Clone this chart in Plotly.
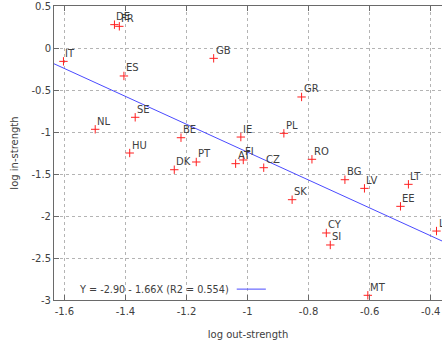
import plotly.graph_objects as go

countries = ["IT", "DE", "FR", "ES", "GB", "SE", "NL", "BE", "HU", "PT", "DK",
             "GR", "IE", "PL", "RO", "AT", "FI", "CZ", "BG", "LV", "LT", "EE",
             "SK", "CY", "SI", "LU", "MT"]
log_out_strength = [-1.603, -1.436, -1.420, -1.405, -1.111, -1.368, -1.499, -1.218,
                    -1.386, -1.168, -1.240, -0.823, -1.022, -0.881, -0.789, -1.039,
                    -1.014, -0.947, -0.681, -0.617, -0.473, -0.499, -0.854, -0.742,
                    -0.729, -0.381, -0.606]
log_in_strength = [-0.159, 0.278, 0.258, -0.333, -0.123, -0.825, -0.968, -1.068,
                   -1.250, -1.357, -1.449, -0.583, -1.060, -1.016, -1.325, -1.377,
                   -1.333, -1.425, -1.568, -1.671, -1.623, -1.885, -1.806, -2.202,
                   -2.345, -2.179, -2.944]

intercept = -2.90
slope = -1.66
r2 = 0.554

x_ticks = [-1.6, -1.4, -1.2, -1.0, -0.8, -0.6, -0.4]
x_tick_labels = ["-1.6", "-1.4", "-1.2", "-1", "-0.8", "-0.6", "-0.4"]
y_ticks = [0.5, 0, -0.5, -1, -1.5, -2, -2.5, -3]
y_tick_labels = ["0.5", "0", "-0.5", "-1", "-1.5", "-2", "-2.5", "-3"]

x_range = [-1.634, -0.363]
y_range = [-3.0, 0.5]

FONT = "DejaVu Sans"
TXT = "#404040"
AXIS = "#6a6a6a"
GRID = "#b4b4b4"

fig = go.Figure()

fig.add_trace(go.Scatter(
    x=x_range,
    y=[intercept + slope * v for v in x_range],
    mode="lines",
    line=dict(color="#4a4aff", width=1),
    showlegend=False,
    hoverinfo="skip",
))

fig.add_trace(go.Scatter(
    x=log_out_strength,
    y=log_in_strength,
    mode="markers",
    marker=dict(symbol="cross-thin", size=6, line=dict(color="#ff2020", width=1)),
    showlegend=False,
    cliponaxis=False,
))

for c, xv, yv in zip(countries, log_out_strength, log_in_strength):
    fig.add_annotation(
        x=xv, y=yv, text=c, showarrow=False,
        xanchor="left", yanchor="middle", xshift=0, yshift=8,
        font=dict(family=FONT, size=10, color=TXT),
    )

# key (text followed by line sample, gnuplot style)
fig.add_annotation(
    xref="paper", yref="paper", x=0.456, y=0.037,
    text=f"Y = {intercept:.2f} - {abs(slope):.2f}X (R2 = {r2:.3f})",
    showarrow=False, xanchor="right", yanchor="middle",
    font=dict(family=FONT, size=9.7, color=TXT),
)
fig.add_shape(
    type="line", xref="paper", yref="paper",
    x0=0.471, x1=0.546, y0=0.037, y1=0.037,
    line=dict(color="#4a4aff", width=1),
)

fig.update_xaxes(
    range=x_range, tickvals=x_ticks, ticktext=x_tick_labels,
    showgrid=True, gridcolor=GRID, griddash="dot", gridwidth=1,
    zeroline=False, showline=True, linecolor=AXIS, linewidth=1, mirror="ticks",
    ticks="inside", ticklen=5, tickcolor=AXIS, automargin=False,
    ticklabelstandoff=2,
    tickfont=dict(family=FONT, size=10, color=TXT),
    title=dict(text="log out-strength", font=dict(family=FONT, size=10, color=TXT), standoff=14),
)
fig.update_yaxes(
    range=y_range, tickvals=y_ticks, ticktext=y_tick_labels,
    showgrid=True, gridcolor=GRID, griddash="dot", gridwidth=1,
    zeroline=False, showline=True, linecolor=AXIS, linewidth=1,
    ticks="inside", ticklen=5, tickcolor=AXIS, automargin=False,
    tickfont=dict(family=FONT, size=10, color=TXT),
    title=dict(text="log in-strength", font=dict(family=FONT, size=10, color=TXT), standoff=10),
)

fig.update_layout(
    width=442, height=344,
    margin=dict(l=54, r=0, t=6, b=44),
    plot_bgcolor="white", paper_bgcolor="white",
    showlegend=False,
)

fig.write_html("out.html", config={"displayModeBar": False},
               post_script="document.body.style.margin='0';")
